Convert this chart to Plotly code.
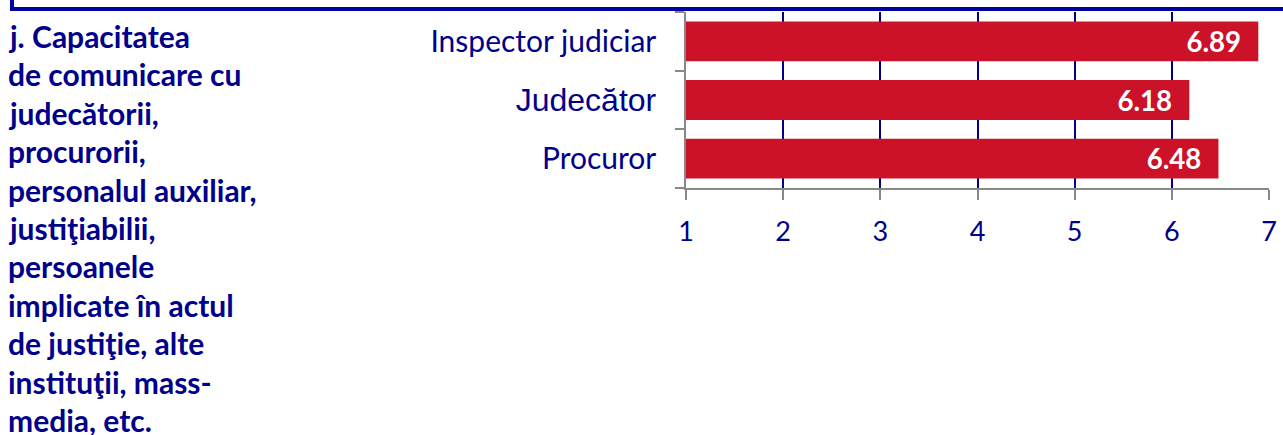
import plotly.graph_objects as go

categories = ["Inspector judiciar", "Judecător", "Procuror"]
values = [6.89, 6.18, 6.48]
x_ticks = [1, 2, 3, 4, 5, 6, 7]
title_lines = [
    "j. Capacitatea",
    "de comunicare cu",
    "judecătorii,",
    "procurorii,",
    "personalul auxiliar,",
    "justiţiabilii,",
    "persoanele",
    "implicate în actul",
    "de justiţie, alte",
    "instituţii, mass-",
    "media, etc.",
]

NAVY = "#00008B"
RED = "#CC1228"
W, H = 1283, 435
L, R, T, B = 686, 14, 12, 247
PW, PH = W - L - R, H - T - B


def px_x(X):
    return (X - L) / PW


def px_y(Y):
    return (H - B - Y) / PH


tick_styles = {
    "Inspector judiciar": "font-family:Lato;font-size:30px",
    "Judecător": "font-family:Liberation Sans;font-size:32px",
    "Procuror": "font-family:Lato;font-size:30px",
}
ticktext = [f'<span style="{tick_styles[c]}">{c}</span>' for c in categories]

fig = go.Figure()
fig.add_trace(go.Bar(
    y=categories,
    x=values,
    orientation="h",
    marker=dict(color=RED, line=dict(width=0)),
    text=[f"<b>{v:.2f}</b>  " for v in values],
    textposition="inside",
    insidetextanchor="end",
    textfont=dict(family="Lato", size=31, color="white"),
    cliponaxis=True,
))

fig.update_layout(
    width=W, height=H,
    margin=dict(l=L, r=R, t=T, b=B, pad=0, autoexpand=False),
    paper_bgcolor="white", plot_bgcolor="white",
    showlegend=False,
    bargap=0.32,
    uniformtext=dict(minsize=8, mode="show"),
    font=dict(family="Lato", color=NAVY),
    xaxis=dict(
        range=[1, 7], tickvals=x_ticks, ticktext=[str(t) for t in x_ticks],
        showgrid=True, gridcolor=NAVY, gridwidth=1.5,
        showline=True, linecolor="#888888", linewidth=1.5,
        ticks="outside", ticklen=10, tickcolor="#888888", tickwidth=1.5,
        tickfont=dict(family="Lato", size=27, color=NAVY),
        ticklabelstandoff=9,
        zeroline=False, fixedrange=True, automargin=False,
    ),
    yaxis=dict(
        categoryorder="array", categoryarray=categories, autorange="reversed",
        tickvals=categories, ticktext=ticktext,
        tickson="boundaries",
        showgrid=False,
        showline=True, linecolor="#888888", linewidth=1.5,
        ticks="outside", ticklen=9, tickcolor="#888888", tickwidth=1.5,
        tickfont=dict(family="Lato", size=30, color=NAVY),
        ticklabelstandoff=22,
        fixedrange=True, automargin=False,
    ),
)

# top decorative line and small tick
fig.add_shape(type="line", xref="paper", yref="paper",
              x0=px_x(10), x1=px_x(1290), y0=px_y(9), y1=px_y(9),
              line=dict(color="#0000A0", width=4))
fig.add_shape(type="line", xref="paper", yref="paper",
              x0=px_x(12), x1=px_x(12), y0=px_y(-2), y1=px_y(8),
              line=dict(color="#0000A0", width=4))

# left description text
for i, line in enumerate(title_lines):
    fig.add_annotation(
        xref="paper", yref="paper",
        x=px_x(6), y=px_y(36 + i * 38.4),
        xanchor="left", yanchor="middle",
        text=f"<b>{line}</b>", showarrow=False,
        font=dict(family="Lato", size=30, color=NAVY),
    )

fig.write_html(
    "out.html",
    config={"displayModeBar": False},
    post_script="document.body.style.margin='0';document.body.style.overflow='hidden';",
)
